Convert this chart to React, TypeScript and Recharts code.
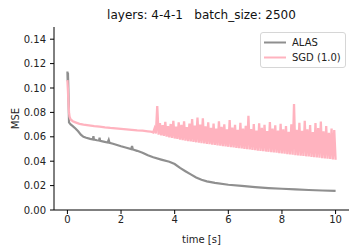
import { LineChart, Line, XAxis, YAxis, Legend } from "recharts"

const TITLE = "layers: 4-4-1   batch_size: 2500"
const X_TICKS = [0, 2, 4, 6, 8, 10]
const Y_TICKS = [0, 0.02, 0.04, 0.06, 0.08, 0.1, 0.12, 0.14]

// ALAS run (time [s], MSE)
const ALAS_T = [
  0, 0.01, 0.02, 0.03, 0.045, 0.06, 0.12, 0.2, 0.3, 0.4, 0.5, 0.6, 0.7, 0.85, 0.95, 0.97, 0.99,
  1.1, 1.18, 1.2, 1.22, 1.35, 1.5, 1.54, 1.57, 1.7, 1.85, 2.0, 2.2, 2.38, 2.41, 2.44, 2.6, 2.8,
  3.0, 3.2, 3.5, 3.8, 4.0, 4.2, 4.4, 4.6, 4.8, 5.0, 5.2, 5.5, 6.0, 6.5, 7.0, 7.5, 8.0, 8.5, 9.0,
  9.5, 10.0,
]
const ALAS_MSE = [
  0.1135, 0.1055, 0.1125, 0.104, 0.088, 0.0718, 0.0702, 0.0688, 0.0668, 0.0645, 0.0618, 0.06,
  0.0592, 0.0583, 0.0578, 0.0606, 0.0577, 0.0572, 0.0569, 0.0592, 0.0566, 0.056, 0.0553, 0.0574,
  0.055, 0.0543, 0.0533, 0.0522, 0.051, 0.0499, 0.0525, 0.0496, 0.0485, 0.047, 0.0448, 0.0432,
  0.0413, 0.0395, 0.0377, 0.0345, 0.0318, 0.0292, 0.0267, 0.0248, 0.0235, 0.0222, 0.0207, 0.0197,
  0.0188, 0.018, 0.0174, 0.0169, 0.0164, 0.016, 0.0156,
]

// SGD (1.0) before it starts oscillating
const SGD_T = [
  0, 0.02, 0.04, 0.06, 0.08, 0.12, 0.2, 0.3, 0.45, 0.6, 0.8, 1.0, 1.2, 1.4, 1.6, 1.8, 2.0, 2.2,
  2.4, 2.6, 2.8, 3.0, 3.1, 3.15,
]
const SGD_MSE = [
  0.1065, 0.098, 0.088, 0.08, 0.0765, 0.0742, 0.0728, 0.0718, 0.0706, 0.07, 0.0694, 0.0688,
  0.0684, 0.0678, 0.0673, 0.0669, 0.0665, 0.0661, 0.0657, 0.0653, 0.065, 0.0645, 0.0642, 0.064,
]

// SGD oscillating part: lows at 3.20, 3.30, ... 10.00, highs at 3.25, 3.35, ... 9.95
const SGD_OSC_START = 3.2
const SGD_OSC_STEP = 0.05
const SGD_LOW = [
  0.0636, 0.0628, 0.0618, 0.0612, 0.0607, 0.0601, 0.0596, 0.0591,
  0.0586, 0.0582, 0.0577, 0.0573, 0.0569, 0.0565, 0.0562, 0.0558, 0.0555, 0.0551,
  0.0548, 0.0545, 0.0542, 0.0539, 0.0536, 0.0533, 0.053, 0.0527, 0.0524, 0.0521,
  0.0518, 0.0515, 0.0512, 0.0509, 0.0507, 0.0504, 0.0501, 0.0498, 0.0496, 0.0493,
  0.049, 0.0487, 0.0485, 0.0482, 0.0479, 0.0477, 0.0474, 0.0471, 0.0469, 0.0466,
  0.0463, 0.0461, 0.0458, 0.0456, 0.0453, 0.045, 0.0448, 0.0445, 0.0443, 0.044,
  0.0438, 0.0435, 0.0433, 0.043, 0.0428, 0.0425, 0.0423, 0.042, 0.0418, 0.0415,
  0.0412,
]
const SGD_HIGH = [
  0.0668, 0.0852, 0.0712, 0.0695, 0.0722, 0.0688, 0.0705, 0.0731,
  0.0684, 0.0718, 0.0697, 0.0726, 0.0679, 0.0708, 0.0745, 0.0692, 0.0758, 0.0701,
  0.0752, 0.0686, 0.0719, 0.0674, 0.0709, 0.0668, 0.0727, 0.0681, 0.0703, 0.0662,
  0.0738, 0.0676, 0.0699, 0.0657, 0.0714, 0.0668, 0.0691, 0.0772, 0.0664, 0.0705,
  0.0652, 0.0711, 0.0673, 0.0698, 0.0646, 0.0721, 0.0668, 0.0694, 0.0651, 0.0706,
  0.0662, 0.0689, 0.0641, 0.0702, 0.0868, 0.0658, 0.0714, 0.0649, 0.0731, 0.0662,
  0.0697, 0.0638, 0.0712, 0.0671, 0.0726, 0.0645, 0.0688, 0.0632, 0.0667, 0.0655,
]

const ALAS_COLOR = "#8f8f8f"
const SGD_COLOR = "#ffb3bf"
const FONT = '"DejaVu Sans", sans-serif'

const alasData = ALAS_T.map((t, i) => ({ t, v: ALAS_MSE[i] }))

const sgdData = SGD_T.map((t, i) => ({ t, v: SGD_MSE[i] }))
SGD_LOW.forEach((low, i) => {
  sgdData.push({ t: SGD_OSC_START + 2 * i * SGD_OSC_STEP, v: low })
  if (i < SGD_HIGH.length) {
    sgdData.push({ t: SGD_OSC_START + (2 * i + 1) * SGD_OSC_STEP, v: SGD_HIGH[i] })
  }
})

const legendItems = [
  { name: "ALAS", color: ALAS_COLOR },
  { name: "SGD (1.0)", color: SGD_COLOR },
]

const renderLegend = () => (
  <div
    style={{
      border: "1px solid #d6d6d6",
      borderRadius: 3,
      background: "#fff",
      padding: "2px 4px 2px 2px",
      fontFamily: FONT,
      fontSize: 10,
      color: "#222",
      lineHeight: "15px",
    }}
  >
    {legendItems.map(item => (
      <div key={item.name} style={{ display: "flex", alignItems: "center" }}>
        <svg width={29} height={15}>
          <line x1={1} y1={7.5} x2={23} y2={7.5} stroke={item.color} strokeWidth={2} />
        </svg>
        <span style={{ whiteSpace: "nowrap" }}>{item.name}</span>
      </div>
    ))}
  </div>
)

export default function App() {
  return (
    <div
      style={{
        position: "absolute",
        left: 0,
        top: 0,
        width: 360,
        height: 252,
        background: "#fff",
        fontFamily: FONT,
      }}
    >
      <div
        style={{
          position: "absolute",
          top: 8,
          left: 54,
          width: 295,
          textAlign: "center",
          fontSize: 12,
          whiteSpace: "pre",
          color: "#111",
        }}
      >
        {TITLE}
      </div>
      <LineChart width={360} height={252} margin={{ top: 27, right: 11, bottom: 0, left: 0 }}>
        <XAxis
          type="number"
          dataKey="t"
          domain={[-0.5, 10.5]}
          ticks={X_TICKS}
          allowDataOverflow
          height={42}
          tickSize={4}
          tickMargin={2}
          stroke="#000"
          tick={{ fill: "#222", fontSize: 10, fontFamily: FONT }}
          label={{ value: "time [s]", position: "insideBottom", offset: 9, fill: "#222", fontSize: 10, fontFamily: FONT }}
        />
        <YAxis
          type="number"
          domain={[0, 0.15]}
          ticks={Y_TICKS}
          allowDataOverflow
          width={54}
          tickSize={4}
          tickMargin={4}
          stroke="#000"
          tickFormatter={(v: number) => v.toFixed(2)}
          tick={{ fill: "#222", fontSize: 10, fontFamily: FONT }}
          label={{
            value: "MSE",
            angle: -90,
            position: "insideLeft",
            offset: 15,
            fill: "#222",
            fontSize: 10,
            fontFamily: FONT,
            style: { textAnchor: "middle" },
          }}
        />
        <Legend
          content={renderLegend}
          layout="vertical"
          align="center"
          verticalAlign="middle"
          wrapperStyle={{ position: "absolute", left: 260, top: 32, width: "auto" }}
        />
        <Line
          data={alasData}
          dataKey="v"
          name="ALAS"
          type="linear"
          stroke={ALAS_COLOR}
          strokeWidth={2.2}
          dot={false}
          isAnimationActive={false}
        />
        <Line
          data={sgdData}
          dataKey="v"
          name="SGD (1.0)"
          type="linear"
          stroke={SGD_COLOR}
          strokeWidth={2.3}
          strokeLinejoin="miter"
          dot={false}
          isAnimationActive={false}
        />
      </LineChart>
    </div>
  )
}
